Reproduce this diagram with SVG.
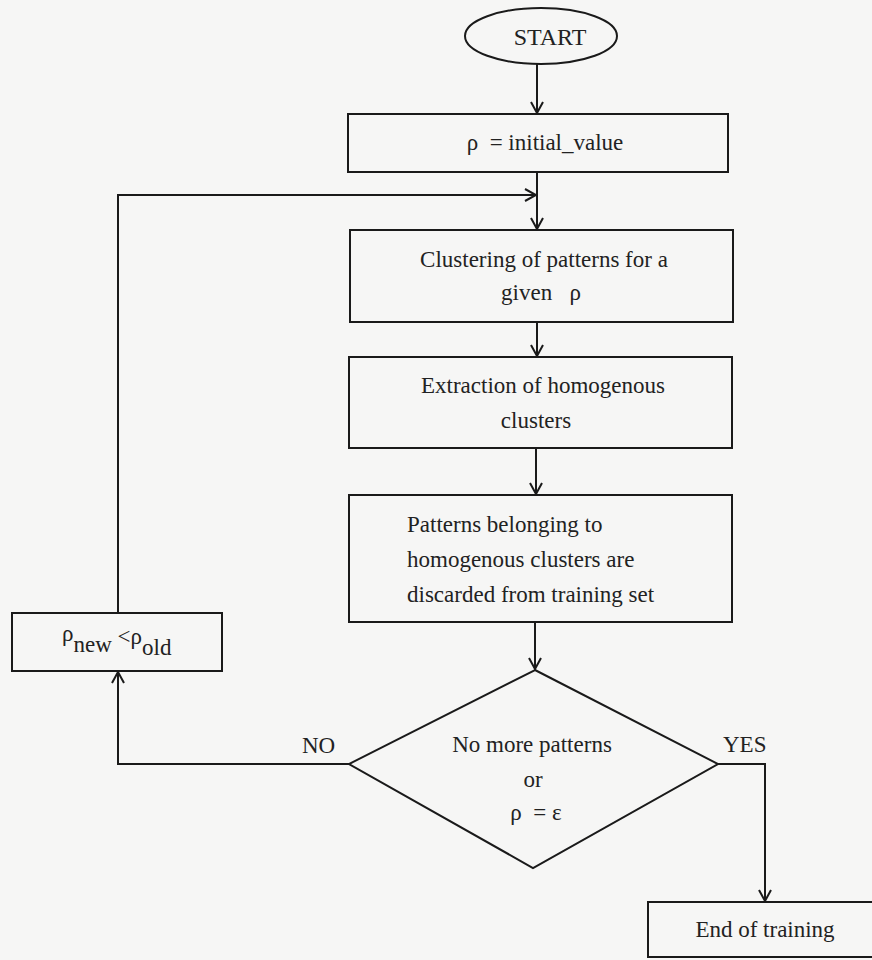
<svg xmlns="http://www.w3.org/2000/svg" width="872" height="960" viewBox="0 0 872 960">
<defs>
<style>
.s{fill:none;stroke:#1a1a1a;stroke-width:2}
.t{font-family:"Liberation Serif","Times New Roman",serif;font-size:23px;fill:#222}
.c{text-anchor:middle}
</style>
<marker id="ah" viewBox="0 0 14 14" refX="12" refY="7" markerWidth="14" markerHeight="14" markerUnits="userSpaceOnUse" orient="auto">
<path d="M1,1 L12,7 L1,13" fill="none" stroke="#1a1a1a" stroke-width="2"/>
</marker>
</defs>
<rect width="872" height="960" fill="#f6f6f5"/>
<g id="start"><ellipse class="s" cx="541" cy="36" rx="76" ry="28"/><text class="t c" x="550" y="45" style="font-size:24px">START</text></g>
<g id="init"><rect class="s" x="348" y="114" width="380" height="58"/><text class="t c" x="545" y="150" xml:space="preserve">ρ  = initial_value</text></g>
<g id="cluster"><rect class="s" x="350" y="230" width="383" height="92"/><text class="t c" x="544" y="267">Clustering of patterns for a</text><text class="t c" x="541" y="300" xml:space="preserve">given   ρ</text></g>
<g id="extract"><rect class="s" x="349" y="357" width="383" height="91"/><text class="t c" x="543" y="393">Extraction of homogenous</text><text class="t c" x="536" y="428">clusters</text></g>
<g id="discard"><rect class="s" x="349" y="495" width="383" height="127"/><text class="t" x="407" y="532">Patterns belonging to</text><text class="t" x="407" y="567">homogenous clusters are</text><text class="t" x="407" y="602">discarded from training set</text></g>
<g id="decision"><polygon class="s" points="535,670 718,764 533,868 349,764"/><text class="t c" x="532" y="752">No more patterns</text><text class="t c" x="533" y="787">or</text><text class="t c" x="536" y="820" xml:space="preserve">ρ  = ε</text></g>
<g id="update"><rect class="s" x="12" y="613" width="210" height="58"/><text class="t" x="62" y="641">ρ<tspan dy="11">new</tspan><tspan dy="-8" xml:space="preserve"> &lt;ρ</tspan><tspan dy="11">old</tspan></text></g>
<g id="end"><rect class="s" x="648" y="902" width="240" height="55"/><text class="t c" x="765" y="937">End of training</text></g>
<g id="connectors">
<path class="s" d="M537,64 V113" marker-end="url(#ah)"/>
<path class="s" d="M537,172 V229" marker-end="url(#ah)"/>
<path class="s" d="M537,322 V356" marker-end="url(#ah)"/>
<path class="s" d="M536,448 V494" marker-end="url(#ah)"/>
<path class="s" d="M535,622 V669" marker-end="url(#ah)"/>
<path class="s" d="M118,613 V195 H536" marker-end="url(#ah)"/>
<path class="s" d="M349,764 H118 V672" marker-end="url(#ah)"/>
<path class="s" d="M718,764 H765 V901" marker-end="url(#ah)"/>
<text class="t" x="302" y="753">NO</text>
<text class="t" x="723" y="752">YES</text>
</g>
</svg>
